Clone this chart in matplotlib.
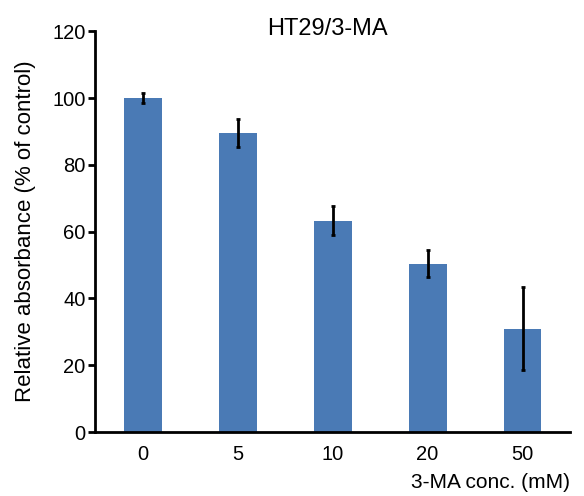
import matplotlib
matplotlib.use('Agg')
import matplotlib.pyplot as plt
import numpy as np

plt.rcParams['font.family'] = ['Liberation Sans', 'DejaVu Sans']

# data
conc_labels = ['0', '5', '10', '20', '50']
absorbance = [100.0, 89.5, 63.3, 50.4, 30.9]
errors = [1.5, 4.2, 4.3, 4.0, 12.4]

bar_color = '#4a7ab5'

fig = plt.figure(figsize=(5.84, 4.96), dpi=100)
ax = fig.add_axes([0.163, 0.129, 0.813, 0.808])

x = np.arange(len(conc_labels))
ax.bar(x, absorbance, width=0.4, color=bar_color, zorder=2)
ax.errorbar(x, absorbance, yerr=errors, fmt='none', ecolor='black',
            elinewidth=2, capsize=1.2, capthick=2, zorder=3)

ax.set_xlim(-0.5, 4.5)
ax.set_ylim(0, 120)
ax.set_yticks(np.arange(0, 121, 20))
ax.set_xticks(x)
ax.set_xticklabels(conc_labels)

for side in ['top', 'right']:
    ax.spines[side].set_visible(False)
for side in ['left', 'bottom']:
    ax.spines[side].set_linewidth(2)

ax.tick_params(axis='y', direction='out', length=5, width=2, labelsize=14.5, pad=2)
ax.tick_params(axis='x', length=0, labelsize=14.5, pad=9)

ax.set_ylabel('Relative absorbance (% of control)', fontsize=16)
ax.yaxis.set_label_coords(-0.124, 0.5)
# title sits a little below the top of the y axis in the original
ax.text(0.49, 0.99, 'HT29/3-MA', transform=ax.transAxes, ha='center',
        va='baseline', fontsize=17)
fig.text(0.976, 0.028, '3-MA conc. (mM)', ha='right', va='center', fontsize=15)

plt.savefig('out.png', dpi=100)
plt.close()
